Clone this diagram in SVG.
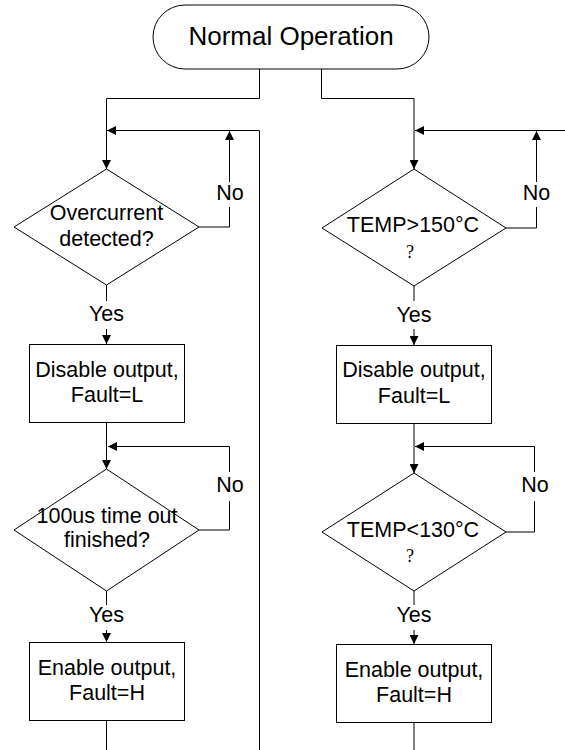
<svg xmlns="http://www.w3.org/2000/svg" width="565" height="750" viewBox="0 0 565 750">
<style>
.shape{fill:#fff;stroke:#000;stroke-width:1}
.conn{fill:none;stroke:#000;stroke-width:1}
.t{font-family:"Liberation Sans",Arial,sans-serif;font-size:21.5px;fill:#000;text-anchor:middle}
.q{font-family:"Liberation Serif","Times New Roman",serif;font-size:18px;fill:#000;text-anchor:middle}
</style>
<defs>
<marker id="arr" markerUnits="userSpaceOnUse" markerWidth="9" markerHeight="9" viewBox="0 0 9 9" refX="9" refY="4.5" orient="auto">
<path d="M0,0 L9,4.5 L0,9 z" fill="#000"/>
</marker>
</defs>
<rect width="565" height="750" fill="#fff"/>
<g id="connectors" class="conn">
<path d="M259.5,69 V98.5 H106.5 V169" marker-end="url(#arr)"/>
<path d="M259.5,750 V130.5 H107" marker-end="url(#arr)"/>
<path d="M199,227 H229.5 V207"/>
<path d="M229.5,182 V131" marker-end="url(#arr)"/>
<path d="M106.5,285 V301"/>
<path d="M106.5,329 V344" marker-end="url(#arr)"/>
<path d="M106.5,423 V469" marker-end="url(#arr)"/>
<path d="M199,530 H229.5 V501"/>
<path d="M229.5,472 V446.5 H108" marker-end="url(#arr)"/>
<path d="M106.5,591 V605"/>
<path d="M106.5,630 V642" marker-end="url(#arr)"/>
<path d="M106.5,720 V750"/>
<path d="M321.5,69 V98.5 H414 V169" marker-end="url(#arr)"/>
<path d="M565,130.5 H415" marker-end="url(#arr)"/>
<path d="M506,228 H536.5 V207"/>
<path d="M536.5,182 V131" marker-end="url(#arr)"/>
<path d="M414,286 V301"/>
<path d="M414,329 V345" marker-end="url(#arr)"/>
<path d="M414,423 V473" marker-end="url(#arr)"/>
<path d="M506,532 H534.5 V501"/>
<path d="M534.5,472 V446.5 H415" marker-end="url(#arr)"/>
<path d="M414,591 V605"/>
<path d="M414,630 V644" marker-end="url(#arr)"/>
<path d="M414,722 V750"/>
</g>
<g id="labels" class="t">
<text x="230" y="200">No</text>
<text x="230" y="492">No</text>
<text x="536.5" y="200">No</text>
<text x="535" y="492">No</text>
<text x="106.5" y="321">Yes</text>
<text x="106.5" y="622">Yes</text>
<text x="414" y="322">Yes</text>
<text x="414" y="622">Yes</text>
</g>
<g id="start">
<rect class="shape" x="153" y="5" width="276" height="64" rx="32" ry="32"/>
<text class="t" x="291" y="45" style="font-size:26px">Normal Operation</text>
</g>
<g id="overcurrent">
<polygon class="shape" points="106.5,169 199,227 106.5,285 14,227"/>
<text class="t" x="106.5" y="220">Overcurrent</text>
<text class="t" x="106.5" y="246">detected?</text>
</g>
<g id="disable1">
<rect class="shape" x="29.5" y="344.5" width="155" height="78"/>
<text class="t" x="107" y="377">Disable output,</text>
<text class="t" x="107" y="402">Fault=L</text>
</g>
<g id="timeout">
<polygon class="shape" points="106.5,469 199,530 106.5,591 14,530"/>
<text class="t" x="107" y="523">100us time out</text>
<text class="t" x="107" y="547">finished?</text>
</g>
<g id="enable1">
<rect class="shape" x="29.5" y="642.5" width="155" height="78"/>
<text class="t" x="107" y="675">Enable output,</text>
<text class="t" x="107" y="700">Fault=H</text>
</g>
<g id="temp150">
<polygon class="shape" points="414,169 506,228 414,286 322,228"/>
<text class="t" x="413" y="232">TEMP&gt;150°C</text>
<text class="q" x="410" y="258">?</text>
</g>
<g id="disable2">
<rect class="shape" x="336.5" y="345.5" width="155" height="78"/>
<text class="t" x="414" y="377">Disable output,</text>
<text class="t" x="414" y="403">Fault=L</text>
</g>
<g id="temp130">
<polygon class="shape" points="414,473 506,532 414,591 322,532"/>
<text class="t" x="413" y="537">TEMP&lt;130°C</text>
<text class="q" x="410" y="562">?</text>
</g>
<g id="enable2">
<rect class="shape" x="336.5" y="644.5" width="155" height="78"/>
<text class="t" x="414" y="677">Enable output,</text>
<text class="t" x="414" y="702">Fault=H</text>
</g>
</svg>
